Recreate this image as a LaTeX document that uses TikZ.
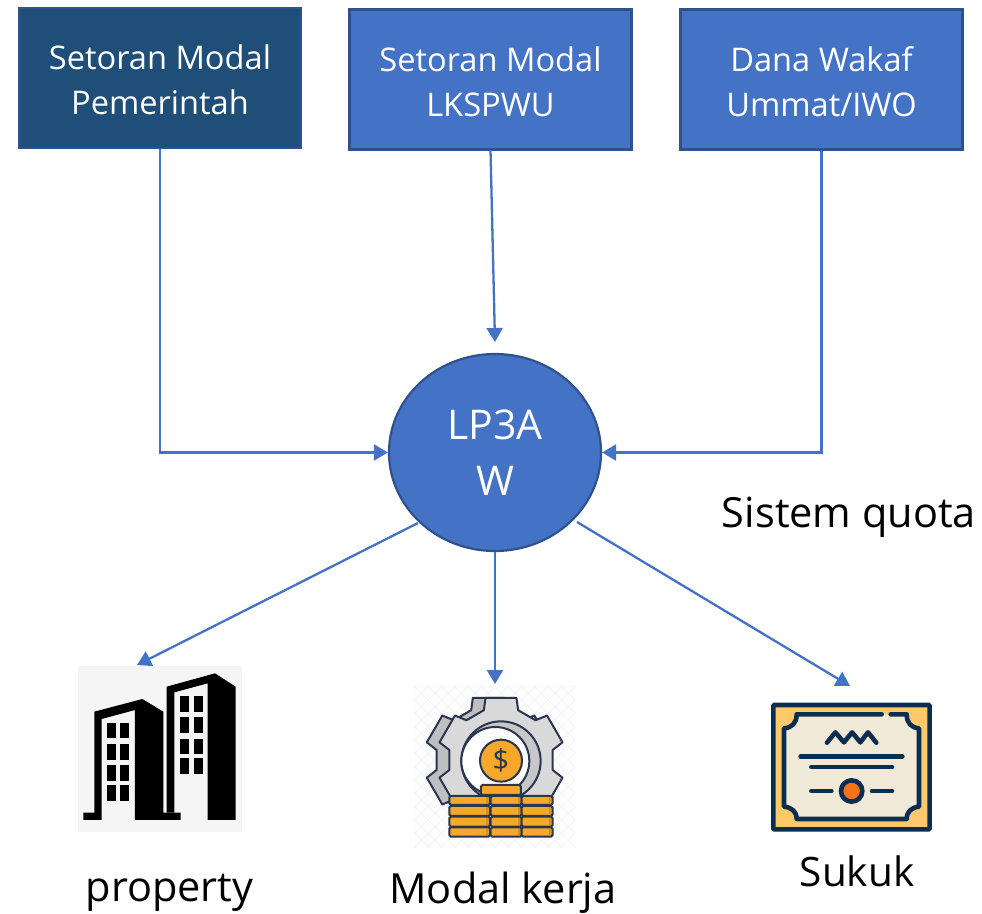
\documentclass[tikz,border=0pt]{standalone}
\usepackage{fontspec}
\setmainfont{Open Sans}
\usetikzlibrary{arrows.meta,shapes.geometric}
\definecolor{linkblue}{HTML}{4472C4}
\definecolor{edgeblue}{HTML}{2F528F}
\definecolor{darkbox}{HTML}{1F4E79}
\definecolor{navy}{HTML}{2A3550}
\definecolor{certnavy}{HTML}{0B2E50}
\definecolor{coin}{HTML}{F5A82A}
\definecolor{coindark}{HTML}{D48F1F}
\definecolor{certgold}{HTML}{FFC96B}
\definecolor{certpaper}{HTML}{F0E9D8}
\definecolor{seal}{HTML}{F97316}
\newcommand{\lowerstrut}{\rule{0pt}{29pt}}
\tikzset{
  x=1pt,y=-1pt,
  fundbox/.style={draw=edgeblue,line width=2.2pt,fill=linkblue,text=white,minimum width=282pt,minimum height=140pt,align=center,font=\fontsize{32.6}{45}\selectfont,inner sep=0pt},
  link/.style={draw=linkblue,line width=2.3pt,-{Triangle[length=14pt,width=16pt]}},
  caption/.style={font=\fontsize{41.5}{48}\selectfont,anchor=base,inner sep=0pt,text=black},
  iconbox/.style={inner sep=0pt,draw=none},
}
\begin{document}
\begin{tikzpicture}
\useasboundingbox (0,0) rectangle (982,913);
\fill[white] (0,0) rectangle (982,913);

\node[fundbox,fill=darkbox] (gov) at (160,78) {\lowerstrut Setoran Modal\\Pemerintah};
\node[fundbox] (lks) at (490.5,79.5) {\lowerstrut Setoran Modal\\LKSPWU};
\node[fundbox] (wakaf) at (821.5,79.5) {\lowerstrut Dana Wakaf\\Ummat/IWO};
\node[ellipse,draw=edgeblue,line width=2.2pt,fill=linkblue,minimum width=212pt,minimum height=197pt,inner sep=0pt,text=white,align=center,font=\fontsize{41}{56}\selectfont] (lp) at (495,452.5) {LP3A\\W};

% property icon
\node[iconbox,fill=black!4,minimum width=164pt,minimum height=166pt] (prop) at (160,749) {};
\begin{scope}[shift={(60,650)},x=0.3333pt,y=-0.3333pt]
  \fill[black] (70,510)--(70,488)--(103,488)--(103,185)--(247,147)--(310,185)--(310,488)--(362,488)--(362,510)--(225,510)--(225,180)--(125,207)--(125,510)--cycle;
  \fill[black] (320,488)--(320,110)--(465,70)--(527,110)--(527,510)--(443,510)--(443,100)--(343,127)--(343,488)--cycle;
  \foreach \x in {142,181}{\foreach \y in {218,282,346,405}{\fill[black] (\x,\y) rectangle ++(27,47);}}
  \foreach \x in {361,401}{\foreach \y in {138,202,266,324}{\fill[black] (\x,\y) rectangle ++(27,47);}}
\end{scope}

% working capital icon
\node[iconbox,fill=black!1,minimum width=162pt,minimum height=163pt] (capital) at (495,766.5) {};
\begin{scope}[shift={(400,670)},x=0.3333pt,y=-0.3333pt]
  \begin{scope}
    \clip (40,45) rectangle (525,535);
    \foreach \k in {-480,-440,...,1000}{
      \draw[black!4,line width=0.5pt] (\k,45) -- (\k+490,535);
      \draw[black!4,line width=0.5pt] (\k,535) -- (\k+490,45);
    }
  \end{scope}
  \begin{scope}[shift={(265,270)}]
    \draw[navy,line width=2pt,fill=black!25,line join=round] (-104:192) \foreach \a in {-90,-30,30,90,150,210}{ -- ({\a-14}:192) -- ({\a+14}:192) -- ({\a+19}:158) -- ({\a+41}:158) } -- cycle;
  \end{scope}
  \begin{scope}[shift={(303,270)}]
    \draw[navy,line width=2pt,fill=black!15,line join=round] (-104:192) \foreach \a in {-90,-30,30,90,150,210}{ -- ({\a-14}:192) -- ({\a+14}:192) -- ({\a+19}:158) -- ({\a+41}:158) } -- cycle;
  \end{scope}
  \draw[navy,line width=2pt,fill=black!22] (303,273) circle[radius=119];
  \draw[navy,line width=2pt,fill=white] (286,273) circle[radius=102];
  \draw[navy,line width=2pt,fill=coin] (303,272) circle[radius=63];
  \node[inner sep=0pt,text=navy,font=\fontsize{29}{29}\selectfont] (dollar) at (303,272) {\$};
  \draw[navy,line width=2pt,fill=coin,rounded corners=1.5pt] (243,345) rectangle (363,375);
  \foreach \xa/\xb in {148/270,272/365,365/458}{
    \foreach \ya/\yb in {378/405,408/438,440/470,472/500}{
      \draw[navy,line width=2pt,fill=coin,rounded corners=1.5pt] (\xa,\ya) rectangle (\xb,\yb);
      \fill[coindark] (\xb-11,\ya+4) rectangle (\xb-5,\yb-4);
    }
  }
\end{scope}

% sukuk icon
\node[iconbox,minimum width=160pt,minimum height=129pt] (sukuk) at (851,766.5) {};
\begin{scope}[shift={(750,680)},x=0.3333pt,y=-0.3333pt]
  \draw[certnavy,line width=4.6pt,fill=certgold,rounded corners=1pt] (70,75) rectangle (539,448);
  \fill[certpaper] (140,103) -- (470,103) .. controls (470,130) and (485,143) .. (507,145) -- (507,380) .. controls (485,382) and (470,395) .. (470,417) -- (140,417) .. controls (140,395) and (125,382) .. (102,380) -- (102,145) .. controls (125,143) and (140,130) .. (140,103) -- cycle;
  \draw[certnavy,line width=4.6pt,line cap=round,line join=round] (395,103) -- (140,103) .. controls (140,130) and (125,143) .. (102,145) -- (102,380) .. controls (125,382) and (140,395) .. (140,417) -- (470,417) .. controls (470,395) and (485,382) .. (507,380) -- (507,145) .. controls (485,143) and (470,130) .. (470,103) -- (422,103);
  \draw[certnavy,line width=4.6pt,line cap=round,line join=round] (231,188) -- (256,157) -- (282,187) -- (306,157) -- (331,187) -- (354,157) -- (379,188);
  \draw[certnavy,line width=4.6pt,line cap=round] (152,229) -- (457,229);
  \draw[certnavy,line width=4.6pt,line cap=round] (184,261) -- (426,261);
  \draw[certnavy,line width=4.6pt,line cap=round] (184,333) -- (244,333);
  \draw[certnavy,line width=4.6pt,line cap=round] (366,333) -- (426,333);
  \draw[certnavy,line width=4.6pt,fill=seal] (305,333) circle[radius=32];
\end{scope}

% connectors
\coordinate (propin) at (137,665);
\coordinate (capin) at (495,684);
\coordinate (sukin) at (850,686);
\coordinate (lksout) at (490.5,150);
\coordinate (lpin) at (495,342);
\coordinate (lpl) at (418,523);
\coordinate (lpr) at (577,522);
\draw[link] (gov.south) |- (lp.west);
\draw[link] (lksout) -- (lpin);
\draw[link] (wakaf.south) |- (lp.east);
\draw[link] (lpl) -- (propin);
\draw[link] (lp.south) -- (capin);
\draw[link] (lpr) -- (sukin);

\node[caption] (quota) at (849,527) {Sistem quota};
\node[caption] (ltprop) at (169.5,901) {property};
\node[caption] (ltcap) at (503,903) {Modal kerja};
\node[caption,font=\fontsize{40.5}{48}\selectfont] (ltsuk) at (857,886) {Sukuk};
\end{tikzpicture}
\end{document}
